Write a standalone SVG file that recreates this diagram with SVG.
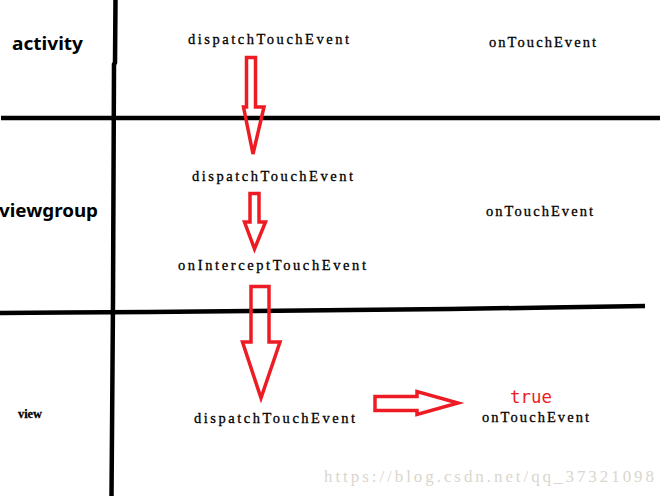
<svg xmlns="http://www.w3.org/2000/svg" width="665" height="496" viewBox="0 0 665 496">
<style>
.ln{fill:none;stroke:#000;stroke-width:4.5;stroke-linecap:butt;stroke-linejoin:round}
.ar{fill:none;stroke:#ed1c24;stroke-width:3.5;stroke-linejoin:miter}
.fn{font-family:"Liberation Serif","DejaVu Serif",serif;font-size:14.5px;fill:#000;stroke:#000;stroke-width:0.3}
.lbl{font-family:"Noto Sans","Liberation Sans",sans-serif;font-weight:bold;font-size:18px;fill:#000}
</style>
<rect width="665" height="496" fill="#fff"/>
<g id="grid">
<polyline class="ln" points="115.5,0 115,63 114,64 113,300 112,433 111.5,496"/>
<line class="ln" x1="1" y1="118" x2="660" y2="118"/>
<polyline class="ln" points="0,313 63,312.5 150,312 250,311 350,310 450,309 550,307.5 645,306"/>
</g>
<g id="lane-activity"><text class="lbl" x="12" y="50" textLength="71" lengthAdjust="spacingAndGlyphs">activity</text></g>
<g id="lane-viewgroup"><text class="lbl" x="-1" y="217" textLength="99" lengthAdjust="spacingAndGlyphs">viewgroup</text></g>
<g id="lane-view"><text class="fn" x="18" y="418" style="font-size:13px;font-weight:bold" textLength="24" lengthAdjust="spacingAndGlyphs">view</text></g>
<g id="n-act-dispatch"><text class="fn" x="188" y="44" textLength="161" lengthAdjust="spacing">dispatchTouchEvent</text></g>
<g id="n-act-ontouch"><text class="fn" x="489" y="47" textLength="107" lengthAdjust="spacing">onTouchEvent</text></g>
<g id="n-vg-dispatch"><text class="fn" x="192" y="181" textLength="161" lengthAdjust="spacing">dispatchTouchEvent</text></g>
<g id="n-vg-intercept"><text class="fn" x="178" y="270" textLength="188" lengthAdjust="spacing">onInterceptTouchEvent</text></g>
<g id="n-vg-ontouch"><text class="fn" x="486" y="216" textLength="107" lengthAdjust="spacing">onTouchEvent</text></g>
<g id="n-v-dispatch"><text class="fn" x="194" y="423" textLength="161" lengthAdjust="spacing">dispatchTouchEvent</text></g>
<g id="n-v-ontouch">
<text class="fn" x="482" y="422" textLength="107" lengthAdjust="spacing">onTouchEvent</text>
<text x="510" y="403" style="font-family:'DejaVu Sans Mono','Liberation Mono',monospace;font-size:17px;fill:#ed1c24" textLength="42" lengthAdjust="spacingAndGlyphs">true</text>
</g>
<g id="connectors">
<polygon class="ar" points="246.5,57.5 255.5,57.5 255.5,107 264,107 253,154 243.5,107 246.5,107"/>
<polygon class="ar" points="250,193.5 259,193.5 259,222 265.5,222 254.5,249 244.5,222 250,222"/>
<polygon class="ar" points="251,286.5 269,286.5 269,342 280,342 261,398 242.5,342 251,342"/>
<polygon class="ar" points="375,396.5 417,396.5 417,391.5 458,403 417,414.5 417,410.5 375,410.5"/>
</g>
<text x="324" y="482" style="font-family:'Liberation Serif',serif;font-size:17px;fill:#dad6ce" textLength="330" lengthAdjust="spacing">https://blog.csdn.net/qq_37321098</text>
</svg>
